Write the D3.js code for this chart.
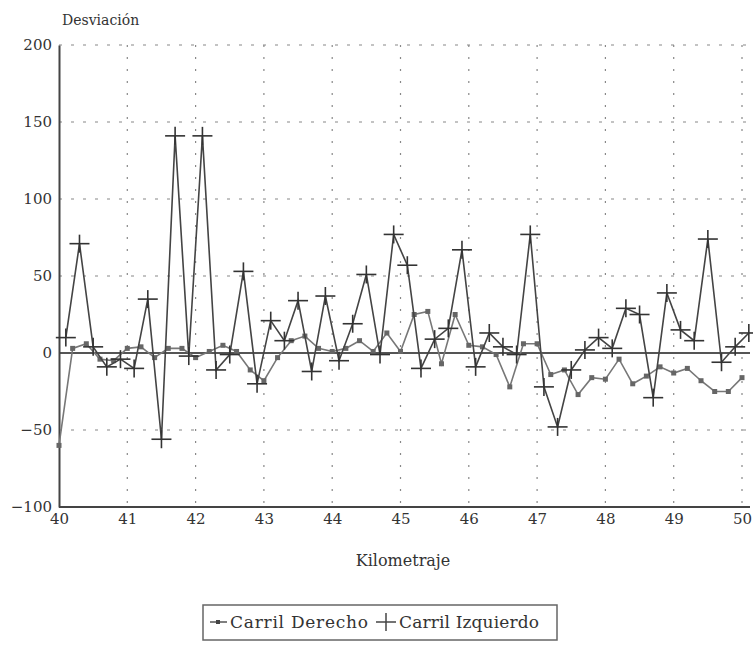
<!DOCTYPE html>
<html>
<head>
<meta charset="utf-8"/>
<script src="https://d3js.org/d3.v7.min.js"></script>
<style>
  body { margin: 0; background: #fff; }
  text { font-family: "DejaVu Serif", "Liberation Serif", serif; fill: #333; }
</style>
</head>
<body>
<div id="chart"></div>
<script>
// Carril Derecho: km 40.0 .. 50.0 every 0.2
var derechoKm = d3.range(0, 51).map(function(i) { return +(40 + i * 0.2).toFixed(1); });
var derechoVal = [-60, 3, 6, -4, -5, 3, 4, -3, 3, 3,
                  -3, 1, 5, 1, -11, -18, -3, 8, 11, 3,
                  1, 3, 8, 1, 13, 1, 25, 27, -7, 25,
                  5, 4, -1, -22, 6, 6, -14, -11, -27, -16,
                  -17, -4, -20, -15, -9, -13, -10, -18, -25, -25,
                  -16];
// Carril Izquierdo: km 40.1 .. 50.1 every 0.2
var izquierdoKm = d3.range(0, 51).map(function(i) { return +(40.1 + i * 0.2).toFixed(1); });
var izquierdoVal = [10, 71, 4, -9, -4, -10, 35, -56, 141, -2,
                    141, -11, -1, 53, -20, 21, 8, 34, -12, 37,
                    -5, 19, 51, -1, 77, 57, -10, 9, 16, 67,
                    -9, 13, 4, -1, 77, -22, -48, -11, 2, 10,
                    3, 29, 25, -29, 39, 15, 8, 74, -6, 4,
                    13];
var xTicks = [40, 41, 42, 43, 44, 45, 46, 47, 48, 49, 50];
var yTicks = [-100, -50, 0, 50, 100, 150, 200];

var W = 753, H = 645;
var serif = '"DejaVu Serif", "Liberation Serif", serif';
var svg = d3.select('#chart').append('svg').attr('width', W).attr('height', H);

var x = d3.scaleLinear().domain([40, 50]).range([59, 742]);
var y = d3.scaleLinear().domain([-100, 200]).range([507, 45]);

// dotted grid
svg.append('g').selectAll('line.gy')
  .data(yTicks.filter(function(d) { return d != 0 && d != -100; }))
  .enter().append('line')
  .attr('x1', 59).attr('x2', 750)
  .attr('y1', function(d) { return y(d); }).attr('y2', function(d) { return y(d); })
  .attr('stroke', '#888').attr('stroke-width', 1.2).attr('stroke-dasharray', '3,9');
svg.append('g').selectAll('line.gx')
  .data(xTicks.slice(1))
  .enter().append('line')
  .attr('x1', function(d) { return x(d); }).attr('x2', function(d) { return x(d); })
  .attr('y1', y(200)).attr('y2', y(-100))
  .attr('stroke', '#888').attr('stroke-width', 1.2).attr('stroke-dasharray', '2,10');

// zero line
svg.append('line').attr('x1', 59).attr('x2', 750).attr('y1', y(0)).attr('y2', y(0))
  .attr('stroke', '#555').attr('stroke-width', 2);

// axes
var yAxis = d3.axisLeft(y).tickValues(yTicks).tickSize(0).tickPadding(7);
var gy = svg.append('g').attr('transform', 'translate(59,0)').call(yAxis)
  .attr('font-family', serif).attr('font-size', 15);
gy.select('.domain').attr('stroke', '#444').attr('stroke-width', 2);
gy.selectAll('text').attr('fill', '#333');

var xAxis = d3.axisBottom(x).tickValues(xTicks).tickSize(0).tickPadding(6);
var gx = svg.append('g').attr('transform', 'translate(0,' + y(-100) + ')').call(xAxis)
  .attr('font-family', serif).attr('font-size', 15);
gx.select('.domain').attr('d', 'M59,0H750').attr('stroke', '#444').attr('stroke-width', 2);
gx.selectAll('text').attr('fill', '#333');

svg.append('text').attr('x', 62).attr('y', 25).attr('font-size', 14).text('Desviación');
svg.append('text').attr('x', 403).attr('y', 566).attr('text-anchor', 'middle')
  .attr('font-size', 16).text('Kilometraje');

// series
var der = derechoKm.map(function(k, i) { return [k, derechoVal[i]]; });
var izq = izquierdoKm.map(function(k, i) { return [k, izquierdoVal[i]]; });
var line = d3.line().x(function(d) { return x(d[0]); }).y(function(d) { return y(d[1]); });

svg.append('path').datum(der).attr('d', line).attr('fill', 'none')
  .attr('stroke', '#777').attr('stroke-width', 1.6);
svg.append('g').selectAll('rect').data(der).enter().append('rect')
  .attr('x', function(d) { return x(d[0]) - 2.5; }).attr('y', function(d) { return y(d[1]) - 2.5; })
  .attr('width', 5).attr('height', 5).attr('fill', '#666');

svg.append('path').datum(izq).attr('d', line).attr('fill', 'none')
  .attr('stroke', '#444').attr('stroke-width', 1.6);
var plus = svg.append('g').selectAll('g').data(izq).enter().append('g')
  .attr('transform', function(d) { return 'translate(' + x(d[0]) + ',' + y(d[1]) + ')'; });
plus.append('line').attr('x1', -10).attr('x2', 10).attr('stroke', '#333').attr('stroke-width', 1.6);
plus.append('line').attr('y1', -9).attr('y2', 9).attr('stroke', '#333').attr('stroke-width', 1.6);

// legend
var lg = svg.append('g');
lg.append('rect').attr('x', 203).attr('y', 605).attr('width', 354).attr('height', 35)
  .attr('fill', 'none').attr('stroke', '#666').attr('stroke-width', 1.5);
lg.append('line').attr('x1', 210).attr('x2', 227).attr('y1', 622).attr('y2', 622)
  .attr('stroke', '#555').attr('stroke-width', 1.5);
lg.append('rect').attr('x', 216).attr('y', 620).attr('width', 4).attr('height', 4).attr('fill', '#444');
lg.append('text').attr('x', 230).attr('y', 628).attr('font-size', 17)
  .attr('textLength', 138).attr('lengthAdjust', 'spacing').text('Carril Derecho');
lg.append('line').attr('x1', 376).attr('x2', 396).attr('y1', 622).attr('y2', 622)
  .attr('stroke', '#444').attr('stroke-width', 1.5);
lg.append('line').attr('x1', 386).attr('x2', 386).attr('y1', 613).attr('y2', 631)
  .attr('stroke', '#444').attr('stroke-width', 1.5);
lg.append('text').attr('x', 399).attr('y', 628).attr('font-size', 17)
  .attr('textLength', 140).attr('lengthAdjust', 'spacing').text('Carril Izquierdo');
</script>
</body>
</html>
